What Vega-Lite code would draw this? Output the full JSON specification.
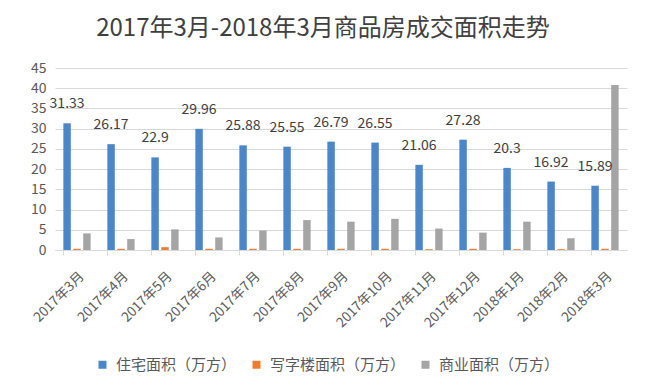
{
  "$schema": "https://vega.github.io/schema/vega-lite/v6.json",
  "autosize": {"type": "none"},
  "width": 572,
  "height": 182,
  "padding": {"left": 55, "top": 68, "right": 23, "bottom": 140},
  "background": "white",
  "title": {
    "text": "2017年3月-2018年3月商品房成交面积走势",
    "font": "Noto Sans CJK SC",
    "fontSize": 24,
    "fontWeight": "normal",
    "color": "#404040",
    "anchor": "middle",
    "dx": -18,
    "offset": 20
  },
  "config": {
    "font": "Noto Sans CJK SC",
    "view": {"stroke": null}
  },
  "data": {
    "values": [
      {"month": "2017年3月", "series": "住宅面积（万方）", "value": 31.33},
      {"month": "2017年3月", "series": "写字楼面积（万方）", "value": 0.3},
      {"month": "2017年3月", "series": "商业面积（万方）", "value": 4.1},
      {"month": "2017年4月", "series": "住宅面积（万方）", "value": 26.17},
      {"month": "2017年4月", "series": "写字楼面积（万方）", "value": 0.3},
      {"month": "2017年4月", "series": "商业面积（万方）", "value": 2.7},
      {"month": "2017年5月", "series": "住宅面积（万方）", "value": 22.9},
      {"month": "2017年5月", "series": "写字楼面积（万方）", "value": 0.7},
      {"month": "2017年5月", "series": "商业面积（万方）", "value": 5.1},
      {"month": "2017年6月", "series": "住宅面积（万方）", "value": 29.96},
      {"month": "2017年6月", "series": "写字楼面积（万方）", "value": 0.3},
      {"month": "2017年6月", "series": "商业面积（万方）", "value": 3.1},
      {"month": "2017年7月", "series": "住宅面积（万方）", "value": 25.88},
      {"month": "2017年7月", "series": "写字楼面积（万方）", "value": 0.3},
      {"month": "2017年7月", "series": "商业面积（万方）", "value": 4.8},
      {"month": "2017年8月", "series": "住宅面积（万方）", "value": 25.55},
      {"month": "2017年8月", "series": "写字楼面积（万方）", "value": 0.3},
      {"month": "2017年8月", "series": "商业面积（万方）", "value": 7.4},
      {"month": "2017年9月", "series": "住宅面积（万方）", "value": 26.79},
      {"month": "2017年9月", "series": "写字楼面积（万方）", "value": 0.3},
      {"month": "2017年9月", "series": "商业面积（万方）", "value": 7.0},
      {"month": "2017年10月", "series": "住宅面积（万方）", "value": 26.55},
      {"month": "2017年10月", "series": "写字楼面积（万方）", "value": 0.3},
      {"month": "2017年10月", "series": "商业面积（万方）", "value": 7.7},
      {"month": "2017年11月", "series": "住宅面积（万方）", "value": 21.06},
      {"month": "2017年11月", "series": "写字楼面积（万方）", "value": 0.2},
      {"month": "2017年11月", "series": "商业面积（万方）", "value": 5.3},
      {"month": "2017年12月", "series": "住宅面积（万方）", "value": 27.28},
      {"month": "2017年12月", "series": "写字楼面积（万方）", "value": 0.3},
      {"month": "2017年12月", "series": "商业面积（万方）", "value": 4.3},
      {"month": "2018年1月", "series": "住宅面积（万方）", "value": 20.3},
      {"month": "2018年1月", "series": "写字楼面积（万方）", "value": 0.2},
      {"month": "2018年1月", "series": "商业面积（万方）", "value": 7.0},
      {"month": "2018年2月", "series": "住宅面积（万方）", "value": 16.92},
      {"month": "2018年2月", "series": "写字楼面积（万方）", "value": 0.2},
      {"month": "2018年2月", "series": "商业面积（万方）", "value": 2.9},
      {"month": "2018年3月", "series": "住宅面积（万方）", "value": 15.89},
      {"month": "2018年3月", "series": "写字楼面积（万方）", "value": 0.3},
      {"month": "2018年3月", "series": "商业面积（万方）", "value": 40.8}
    ]
  },
  "encoding": {
    "x": {
      "field": "month",
      "type": "nominal",
      "sort": null,
      "title": null,
      "scale": {"paddingInner": 0.38, "paddingOuter": 0.19},
      "axis": {
        "labelAngle": -45,
        "labelFontSize": 13.5,
        "labelColor": "#595959",
        "domainColor": "#d9d9d9",
        "tickColor": "#d9d9d9",
        "bandPosition": 0,
        "labelPadding": 14
      }
    },
    "xOffset": {
      "field": "series",
      "type": "nominal",
      "sort": ["住宅面积（万方）", "写字楼面积（万方）", "商业面积（万方）"],
      "scale": {"paddingInner": 0.25}
    },
    "y": {
      "field": "value",
      "type": "quantitative",
      "title": null,
      "scale": {"domain": [0, 45]},
      "axis": {
        "values": [0, 5, 10, 15, 20, 25, 30, 35, 40, 45],
        "labelFontSize": 14,
        "labelColor": "#595959",
        "domain": false,
        "ticks": false,
        "gridColor": "#d9d9d9",
        "labelPadding": 9
      }
    }
  },
  "layer": [
    {
      "mark": {"type": "bar"},
      "encoding": {
        "color": {
          "field": "series",
          "type": "nominal",
          "sort": ["住宅面积（万方）", "写字楼面积（万方）", "商业面积（万方）"],
          "scale": {
            "domain": ["住宅面积（万方）", "写字楼面积（万方）", "商业面积（万方）"],
            "range": ["#4a86c8", "#ed7d31", "#a5a5a5"]
          },
          "legend": {
            "orient": "none",
            "direction": "horizontal",
            "legendX": 40,
            "legendY": 289,
            "title": null,
            "symbolType": "square",
            "symbolSize": 64,
            "labelFontSize": 15,
            "labelColor": "#595959",
            "columnPadding": 12,
            "labelOffset": 6
          }
        }
      }
    },
    {
      "transform": [{"filter": "datum.series === '住宅面积（万方）'"}],
      "mark": {"type": "text", "dy": -19, "fontSize": 14, "color": "#404040"},
      "encoding": {
        "text": {"field": "value", "type": "quantitative"}
      }
    }
  ]
}
